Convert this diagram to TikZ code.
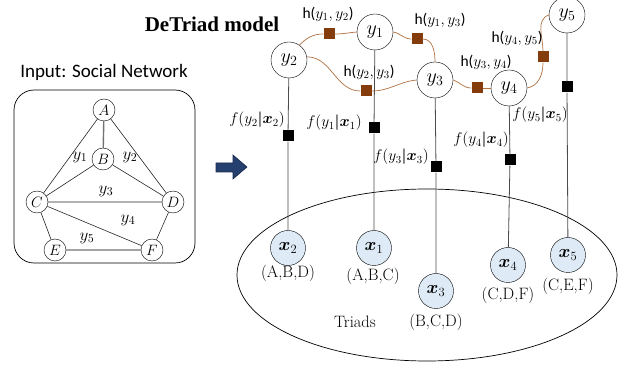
\documentclass[tikz,border=0pt]{standalone}
\usepackage{fix-cm}
\usepackage{bm}
\usepackage{fontspec}
\newfontfamily\carlito{Carlito}
\newfontfamily\libser{Liberation Serif}
\definecolor{hbrown}{HTML}{843C0C}
\definecolor{hcurve}{HTML}{B07040}
\definecolor{xblue}{HTML}{DEEBF7}
\definecolor{navy}{HTML}{253F6E}
\tikzset{
  gnode/.style={circle,draw,fill=white,inner sep=0pt,minimum size=22pt,font=\fontsize{15}{15}\selectfont},
  gedge/.style={draw=black!85,line width=0.6pt},
  gedgeb/.style={draw=black!55,line width=1.4pt},
  ynode/.style={circle,draw,fill=white,inner sep=0pt,minimum size=36pt,font=\fontsize{20}{20}\selectfont},
  xnode/.style={circle,draw,fill=xblue,inner sep=0pt,minimum size=35pt,font=\fontsize{18}{18}\selectfont},
  fsq/.style={rectangle,fill=black,inner sep=0pt,minimum size=11pt},
  hsq/.style={rectangle,fill=hbrown,inner sep=0pt,minimum size=11pt},
  hline/.style={draw=hcurve,line width=0.7pt},
  vline/.style={draw=black!70,line width=0.8pt},
  lab/.style={font=\fontsize{17}{17}\selectfont,inner sep=1pt},
  flab/.style={font=\fontsize{15.5}{16}\selectfont,inner sep=1pt},
  hlab/.style={font=\fontsize{15.5}{16}\selectfont,inner sep=1pt},
  tri/.style={font=\fontsize{16.5}{17}\selectfont,inner sep=1pt},
}
\begin{document}
\begin{tikzpicture}[x=1pt,y=-1pt]
\useasboundingbox (0,0) rectangle (622,366);
% ---- left panel
\node[font=\carlito\fontsize{19}{19}\selectfont] (intitle) at (104,72) {Input: Social Network};
\draw[line width=0.7pt,rounded corners=20pt] (14,90) rectangle (195,263);
\node[gnode] (A) at (104,110) {$A$};
\node[gnode] (B) at (103,159) {$B$};
\node[gnode] (C) at (37,202) {$C$};
\node[gnode] (D) at (173,202) {$D$};
\node[gnode] (E) at (55,250) {$E$};
\node[gnode] (F) at (152,250) {$F$};
\draw[gedge] (A)--(C) (A)--(D) (B)--(C) (B)--(D) (C)--(D) (C)--(E) (C)--(F) (D)--(F);
\draw[gedgeb] (A)--(B) (E)--(F);
\node[lab] (ly1) at (80,157) {$y_1$};
\node[lab] (ly2) at (130,157) {$y_2$};
\node[lab] (ly3) at (106,191) {$y_3$};
\node[lab] (ly4) at (128,220) {$y_4$};
\node[lab] (ly5) at (87,238) {$y_5$};
% ---- arrow (shape)
\filldraw[fill=navy,draw=navy!70!black,line width=0.6pt]
  (216,163) -- (233,163) -- (233,155) -- (247,167) -- (233,179) -- (233,172) -- (216,172) -- cycle;
% ---- title
\node[font=\libser\bfseries\fontsize{21}{21}\selectfont] (title) at (212,24) {DeTriad model};
% ---- triads ellipse
\draw[line width=0.7pt] (427,275) ellipse (190pt and 86pt);
\node[tri] (triads) at (355,322) {Triads};
% ---- y nodes
\node[ynode] (y2) at (289,60) {$y_2$};
\node[ynode] (y1) at (375,32) {$y_1$};
\node[ynode] (y3) at (435,80) {$y_3$};
\node[ynode] (y4) at (509,88) {$y_4$};
\node[ynode] (y5) at (567,15) {$y_5$};
% ---- x nodes
\node[xnode] (x2) at (288,248) {$\bm{x}_2$};
\node[xnode] (x1) at (374,248) {$\bm{x}_1$};
\node[xnode] (x3) at (436,291) {$\bm{x}_3$};
\node[xnode] (x4) at (508,265) {$\bm{x}_4$};
\node[xnode] (x5) at (568,255) {$\bm{x}_5$};
\node[tri] (t2) at (288,273) {(A,B,D)};
\node[tri] (t1) at (373,276) {(A,B,C)};
\node[tri] (t3) at (436,322) {(B,C,D)};
\node[tri] (t4) at (508,295) {(C,D,F)};
\node[tri] (t5) at (568,286) {(C,E,F)};
% ---- f factors
\node[fsq] (f2) at (288,136) {};
\node[fsq] (f1) at (374,128) {};
\node[fsq] (f3) at (436,167) {};
\node[fsq] (f4) at (510,160) {};
\node[fsq] (f5) at (567,87) {};
\draw[vline] (y2)--(f2)--(x2);
\draw[vline] (y1)--(f1)--(x1);
\draw[vline] (y3)--(f3)--(x3);
\draw[vline] (y4)--(f4)--(x4);
\draw[vline] (y5)--(f5)--(x5);
\node[flab] (lf2) at (257,120) {$f(y_2\bm{|}\bm{x}_2)$};
\node[flab] (lf1) at (334,123) {$f(y_1\bm{|}\bm{x}_1)$};
\node[flab] (lf3) at (401,157) {$f(y_3\bm{|}\bm{x}_3)$};
\node[flab] (lf4) at (481,140) {$f(y_4\bm{|}\bm{x}_4)$};
\node[flab] (lf5) at (540,115) {$f(y_5\bm{|}\bm{x}_5)$};
% ---- h factors
\node[hsq] (h12) at (329,34) {};
\node[hsq] (h13) at (417,39) {};
\node[hsq] (h23) at (366,91) {};
\node[hsq] (h34) at (477,88) {};
\node[hsq] (h45) at (543,57) {};
\draw[hline] (y2.55) to[out=45,in=180] (h12);
\draw[hline] (h12) to[out=0,in=185] (y1.west);
\draw[hline] (y1.east) to[out=-10,in=180] (h13);
\draw[hline] (h13) to[out=0,in=90] (y3.north);
\draw[hline] (y2.10) to[out=0,in=180] (h23);
\draw[hline] (h23) to[out=0,in=185] (y3.west);
\draw[hline] (y3.east) to[out=-20,in=180] (h34);
\draw[hline] (h34) -- (y4.west);
\draw[hline] (y4.east) to[out=10,in=-90] (h45);
\draw[hline] (h45) to[out=90,in=200] (y5.west);
\node[hlab] (lh12) at (328,14) {{\carlito h(}$y_1,y_2${\carlito )}};
\node[hlab] (lh13) at (440,20) {{\carlito h(}$y_1,y_3${\carlito )}};
\node[hlab] (lh23) at (369,72) {{\carlito h(}$y_2,y_3${\carlito )}};
\node[hlab] (lh34) at (486,62) {{\carlito h(}$y_3,y_4${\carlito )}};
\node[hlab] (lh45) at (517,38) {{\carlito h(}$y_4,y_5${\carlito )}};
\end{tikzpicture}
\end{document}
